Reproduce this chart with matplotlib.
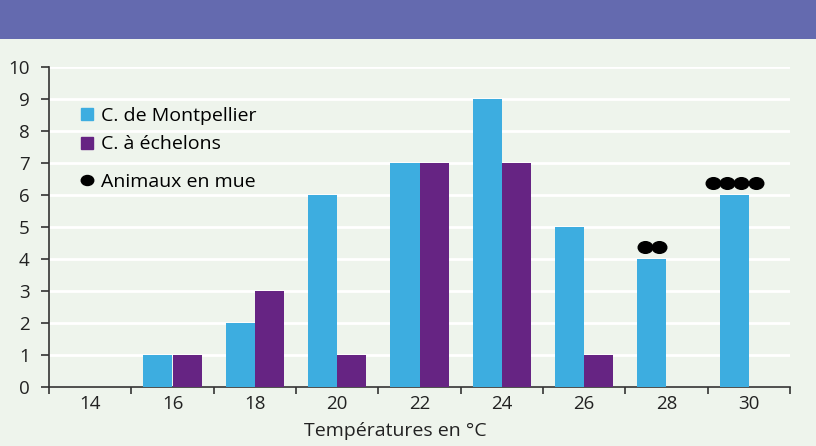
import numpy as np
import matplotlib.pyplot as plt
from matplotlib.path import Path
from matplotlib.transforms import Affine2D
from matplotlib.lines import Line2D
from matplotlib.patches import Rectangle

plt.rcParams['font.family'] = ['Open Sans', 'DejaVu Sans']

temperatures = ['14', '16', '18', '20', '22', '24', '26', '28', '30']
montpellier = [0, 1, 2, 6, 7, 9, 5, 4, 6]
echelons = [0, 1, 3, 1, 7, 7, 1, 0, 0]
en_mue = [0, 0, 0, 0, 0, 0, 0, 2, 4]  # animals moulting, drawn as dots on the blue bars

bg = '#eef4ec'
blue = '#3dade0'
purple = '#662483'
banner = '#646aaf'
ink = '#222222'

fig = plt.figure(figsize=(8.16, 4.46), dpi=100, facecolor=bg)
fig.patches.append(Rectangle((0, 1 - 39 / 446), 1, 39 / 446, transform=fig.transFigure,
                             facecolor=banner, edgecolor='none', zorder=0))
ax = fig.add_axes([49 / 816, 1 - 387 / 446, 741 / 816, 320 / 446])
ax.set_facecolor(bg)

x = np.arange(len(temperatures))
w = 0.355
ax.bar(x - w / 2, montpellier, width=w, color=blue, zorder=3)
ax.bar(x + w / 2, echelons, width=w, color=purple, zorder=3)

# moulting dots, elliptical, centred above each blue bar
ellipse = Path.unit_circle().transformed(Affine2D().scale(1.0, 0.8))
step = 0.175
for i, n in enumerate(en_mue):
    if n == 0:
        continue
    xs = x[i] - w / 2 + (np.arange(n) - (n - 1) / 2) * step
    ax.plot(xs, [montpellier[i] + 0.37] * n, ls='none', marker=ellipse,
            markersize=10.5, color='black', zorder=4)

ax.set_xlim(-0.5, len(temperatures) - 0.5)
ax.set_ylim(0, 10)
ax.set_yticks(range(0, 11))
ax.set_xticks(x)
ax.set_xticklabels(temperatures)
ax.set_xticks(np.arange(-0.5, len(temperatures)), minor=True)
ax.tick_params(axis='x', which='major', length=0, pad=6, labelsize=13.5, colors=ink)
ax.tick_params(axis='x', which='minor', length=5, width=1.2, color='#333333', direction='out')
ax.tick_params(axis='y', length=6, width=1.2, color='#333333', labelsize=13.5, labelcolor=ink, pad=8)
ax.grid(axis='y', color='white', linewidth=2, zorder=0)
ax.set_axisbelow(True)
for s in ['top', 'right']:
    ax.spines[s].set_visible(False)
for s in ['left', 'bottom']:
    ax.spines[s].set_color('#333333')
    ax.spines[s].set_linewidth(1.2)
ax.set_xlabel('Températures en °C', fontsize=14, color=ink, labelpad=5)
ax.xaxis.set_label_coords(0.468, -0.11)

handles = [Line2D([], [], ls='none', marker='s', markersize=9, color=blue),
           Line2D([], [], ls='none', marker='s', markersize=9, color=purple)]
leg1 = ax.legend(handles, ['C. de Montpellier', 'C. à échelons'], loc='center left',
                 bbox_to_anchor=(0.042, (387 - 130) / 320), frameon=False, fontsize=14,
                 handletextpad=0.3, handlelength=0.75, labelspacing=0.55,
                 borderaxespad=0, borderpad=0)
ax.add_artist(leg1)
dot = [Line2D([], [], ls='none', marker=ellipse, markersize=9, color='black')]
ax.legend(dot, ['Animaux en mue'], loc='center left', bbox_to_anchor=(0.042, (387 - 182) / 320),
          frameon=False, fontsize=14, handletextpad=0.3, handlelength=0.75,
          borderaxespad=0, borderpad=0)

fig.savefig('out.png', dpi=100, facecolor=bg)
